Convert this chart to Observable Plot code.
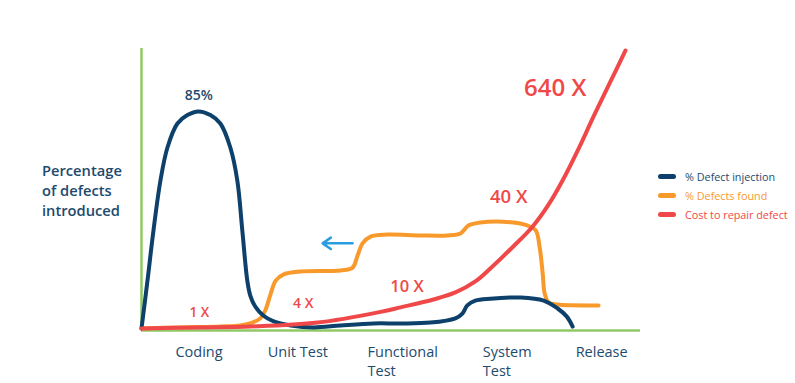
<!DOCTYPE html>
<html>
<head>
<meta charset="utf-8">
<script src="https://cdn.jsdelivr.net/npm/d3@7"></script>
<script src="https://cdn.jsdelivr.net/npm/@observablehq/plot@0.6"></script>
<style>
  html, body { margin: 0; padding: 0; background: #fff; }
  #wrap { position: relative; width: 795px; height: 383px; font-family: "Open Sans", sans-serif; }
  #wrap svg { position: absolute; left: 0; top: 0; }
  #ylab { position: absolute; left: 42px; top: 160px; color: #1d4a6e; font-size: 14.7px; font-weight: 600; line-height: 20px; }
  #legend { position: absolute; left: 658px; top: 167px; font-size: 10.8px; font-weight: 500; }
  #legend .row { display: flex; align-items: center; height: 19px; }
  #legend .sw { width: 18px; height: 5px; border-radius: 3px; margin-right: 9px; }
</style>
</head>
<body>
<div id="wrap">
  <div id="ylab">Percentage<br>of defects<br>introduced</div>
  <div id="legend"></div>
</div>
<script>
// Curve points: x = position along the lifecycle (0–100), y = percentage (0–100)
const injectionX = [0, 1.2, 2.4, 3.8, 5.2, 7.2, 9.2, 11.4, 13.8, 15.8, 17.8, 19.2, 20.2, 21.2, 21.8, 22.8, 24.4, 26.5, 29.9, 34.5, 39.9, 46.5, 51.9, 57.9, 62.9, 64.3, 65.3, 66.9, 69.9, 76.0, 80.6, 83.4, 85.2, 86.4];
const injectionY = [0.7, 17.7, 35.5, 53.2, 64.9, 73.4, 76.4, 77.7, 76.4, 73.4, 64.9, 53.2, 35.5, 17.7, 12.4, 8.5, 5.3, 3.2, 1.8, 1.1, 1.8, 2.5, 2.5, 2.8, 4.3, 6.0, 8.9, 10.6, 11.3, 11.7, 10.6, 7.8, 5.0, 1.4];

const foundX = [0, 7.8, 15.8, 19.8, 22.2, 23.8, 24.8, 25.9, 26.9, 28.5, 31.9, 39.9, 42.3, 43.3, 44.3, 45.9, 49.3, 55.9, 61.3, 63.9, 65.5, 67.9, 74.5, 77.4, 79.0, 79.8, 80.4, 80.8, 81.6, 83.4, 91.6];
const foundY = [0.7, 1.1, 1.4, 1.8, 2.8, 4.3, 7.1, 13.1, 17.7, 19.9, 20.9, 21.3, 22.3, 26.6, 30.9, 33.3, 34.0, 33.7, 33.7, 34.4, 37.2, 38.3, 38.3, 37.2, 35.5, 29.4, 20.2, 13.1, 9.9, 9.2, 8.9];

const costX = [0, 11.8, 21.8, 35.3, 47.9, 51.9, 58.5, 62.9, 66.9, 69.9, 74.5, 78.4, 81.6, 84.6, 87.6, 90.6, 93.8, 97.0];
const costY = [0.7, 1.1, 1.4, 2.8, 6.6, 8.2, 11.0, 13.5, 17.4, 22.0, 29.8, 36.9, 44.7, 53.9, 64.5, 75.9, 87.6, 99.3];

const phases = ["Coding", "Unit Test", "Functional\nTest", "System\nTest", "Release"];
const phaseX = [6.8, 25.3, 45.3, 68.4, 87.0];

const costLabels = ["1 X", "4 X", "10 X", "40 X", "640 X"];
const costLabelX = [11.6, 32.4, 53.2, 73.6, 82.9];
const costLabelY = [6.4, 9.6, 15.6, 47.2, 86.0];
const costLabelSize = [13.5, 14, 16.5, 18.5, 24];

const peakLabel = ["85%"];
const peakLabelX = [11.5];
const peakLabelY = [83.5];

const arrowFromX = [42.3], arrowToX = [36.3], arrowY = [30.9];

const seriesNames = ["% Defect injection", "% Defects found", "Cost to repair defect"];
const seriesColors = ["#0d416b", "#f8992b", "#f04848"];
const axisColor = "#8fc965";
const textColor = "#1d4a6e";

const zip = (xs, ys) => xs.map((x, i) => ({x, y: ys[i]}));
const injection = zip(injectionX, injectionY);
const found = zip(foundX, foundY);
const cost = zip(costX, costY);
const phaseData = phases.map((p, i) => ({p, x: phaseX[i]}));
const costLab = costLabels.map((t, i) => ({t, x: costLabelX[i], y: costLabelY[i], s: costLabelSize[i]}));

const chart = Plot.plot({
  width: 795,
  height: 383,
  marginLeft: 141,
  marginRight: 155,
  marginTop: 48,
  marginBottom: 53,
  x: {domain: [0, 100], axis: null},
  y: {domain: [0, 100], axis: null},
  style: {fontFamily: "'Open Sans', sans-serif", background: "transparent", overflow: "visible"},
  marks: [
    Plot.ruleX([0], {y1: 0, y2: 100, stroke: axisColor, strokeWidth: 2.5}),
    Plot.ruleY([0], {x1: 0, x2: 100, stroke: axisColor, strokeWidth: 2.5}),
    Plot.line(found, {x: "x", y: "y", stroke: seriesColors[1], strokeWidth: 4, curve: "catmull-rom"}),
    Plot.line(injection, {x: "x", y: "y", stroke: seriesColors[0], strokeWidth: 4, curve: "catmull-rom"}),
    Plot.line(cost, {x: "x", y: "y", stroke: seriesColors[2], strokeWidth: 4, curve: "catmull-rom"}),
    Plot.arrow([0], {x1: () => arrowFromX[0], x2: () => arrowToX[0], y1: () => arrowY[0], y2: () => arrowY[0], stroke: "#2a9de0", strokeWidth: 2.5, headLength: 9, headAngle: 70}),
    ...costLab.map(d => Plot.text([d], {x: "x", y: "y", text: "t", fill: seriesColors[2], fontSize: d.s, fontWeight: 600})),
    Plot.text(peakLabel, {x: () => peakLabelX[0], y: () => peakLabelY[0], text: d => d, fill: textColor, fontSize: 14, fontWeight: 600}),
    Plot.text(phaseData, {x: "x", frameAnchor: "bottom", dy: 13, text: "p", textAnchor: "start", lineAnchor: "top", lineHeight: 1.3, fill: textColor, fontSize: 14.5})
  ]
});
document.getElementById("wrap").prepend(chart);

const legend = document.getElementById("legend");
seriesNames.forEach((n, i) => {
  const row = document.createElement("div");
  row.className = "row";
  row.innerHTML = `<div class="sw" style="background:${seriesColors[i]}"></div><span style="color:${i === 0 ? textColor : seriesColors[i]}">${n}</span>`;
  legend.appendChild(row);
});
</script>
</body>
</html>
